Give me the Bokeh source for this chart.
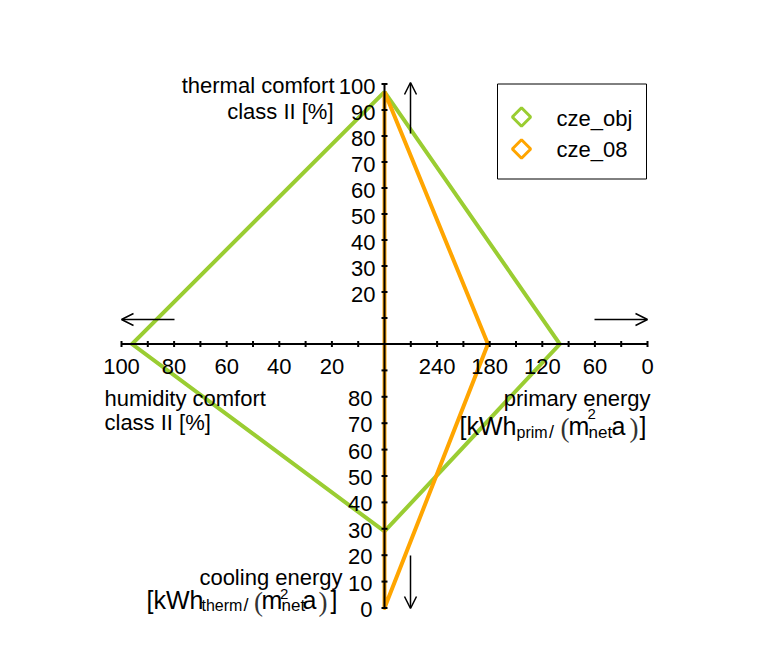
import numpy as np
from bokeh.plotting import figure
from bokeh.models import Range1d, Arrow, OpenHead
from bokeh.core.properties import value
from bokeh.embed import file_html
from bokeh.resources import INLINE

# ---------------- data ----------------
axis_keys = ["thermal", "primary", "cooling", "humidity"]
series_names = ["cze_obj", "cze_08"]
cze_obj = [97, 100, 29, 96]   # thermal comfort %, primary energy, cooling energy, humidity comfort %
cze_08 = [97, 182, 0, 0]
series_colors = ["#9ACD32", "#FFA500"]
series_joins = ["miter", "round"]

thermal_ticks = [10, 20, 30, 40, 50, 60, 70, 80, 90, 100]
thermal_labels = [20, 30, 40, 50, 60, 70, 80, 90, 100]
primary_ticks = [0, 30, 60, 90, 120, 150, 180, 210, 240, 270]
primary_labels = [0, 60, 120, 180, 240]
cooling_ticks = [0, 10, 20, 30, 40, 50, 60, 70, 80, 90]
cooling_labels = [0, 10, 20, 30, 40, 50, 60, 70, 80]
humidity_ticks = [10, 20, 30, 40, 50, 60, 70, 80, 90, 100]
humidity_labels = [100, 80, 60, 40, 20]

# ---------------- geometry (pixel space, y downward) ----------------
CX, CY = 384.0, 343.5
AX = {
    "thermal": (0, 100, 0, -1, 260),
    "primary": (300, 0, 1, 0, 263),
    "cooling": (100, 0, 0, 1, 264),
    "humidity": (0, 100, -1, 0, 263),
}


def pos(axis, v):
    v0, v1, dx, dy, L = AX[axis]
    f = (v - v0) / (v1 - v0)
    return CX + dx * f * L, CY + dy * f * L


p = figure(width=768, height=671, x_range=Range1d(0, 768), y_range=Range1d(671, 0),
           min_border=0, toolbar_location=None, output_backend="svg",
           x_axis_type=None, y_axis_type=None)
p.outline_line_color = None
p.xgrid.visible = False
p.ygrid.visible = False
p.background_fill_color = "white"
p.border_fill_color = "white"

FONT = "Liberation Sans"
SERIF = "Liberation Serif"
FS = 22


def txt(x, y, s, size=FS, align="left", font=FONT, color="black"):
    p.text(x=[x], y=[y], text=[s], text_font=value(font), text_font_size=f"{size}px",
           text_align=align, text_baseline="middle", text_color=color)


# ---------------- series polygons ----------------
for vals, col, join in zip([cze_obj, cze_08], series_colors, series_joins):
    pts = [pos(k, v) for k, v in zip(axis_keys, vals)]
    pts.append(pts[0])
    p.line(x=[q[0] for q in pts], y=[q[1] for q in pts], line_color=col, line_width=4,
           line_join=join)

# ---------------- axes ----------------
tx, ty = pos("thermal", 100)
bx, by = pos("cooling", 0)
lx, ly = pos("humidity", 100)
rx, ry = pos("primary", 0)
p.segment(x0=[tx, lx], y0=[ty, ly], x1=[bx, rx], y1=[by, ry], line_color="black", line_width=2)

vt = [pos("thermal", t) for t in thermal_ticks] + [pos("cooling", t) for t in cooling_ticks]
p.segment(x0=[q[0] - 3 for q in vt], y0=[q[1] for q in vt], x1=[q[0] + 3 for q in vt],
          y1=[q[1] for q in vt], line_color="black", line_width=2)
ht = [pos("humidity", t) for t in humidity_ticks] + [pos("primary", t) for t in primary_ticks]
p.segment(x0=[q[0] for q in ht], y0=[q[1] - 3 for q in ht], x1=[q[0] for q in ht],
          y1=[q[1] + 3 for q in ht], line_color="black", line_width=2)


def labels(xs, ys, vals, align):
    p.text(x=xs, y=ys, text=[str(v) for v in vals], text_font=value(FONT),
           text_font_size=f"{FS}px", text_align=align, text_baseline="middle")


tl = [pos("thermal", t) for t in thermal_labels]
labels([375] * len(tl), [q[1] + 2 for q in tl], thermal_labels, "right")
cl = [pos("cooling", t) for t in cooling_labels]
labels([372] * len(cl), [q[1] + 1.5 for q in cl], cooling_labels, "right")
hl = [pos("humidity", t) for t in humidity_labels]
labels([q[0] for q in hl], [365.5] * len(hl), humidity_labels, "center")
pl = [pos("primary", t) for t in primary_labels]
labels([q[0] for q in pl], [365.5] * len(pl), primary_labels, "center")

# ---------------- axis titles ----------------
txt(334, 85, "thermal comfort", align="right")
txt(333, 111, "class II [%]", align="right")
txt(104, 397.5, "humidity comfort")
txt(104, 422, "class II [%]")
txt(650, 397.5, "primary energy", align="right")
txt(342, 577, "cooling energy", align="right")

# unit pieces: (text, x, middle-y, size, font)
prim_unit = [("[kWh", 459, 425, 25, FONT), ("prim", 516, 432, 16, FONT), ("/", 548.5, 431, 18, FONT),
             ("(", 560, 427, 27, SERIF), ("m", 568, 425, 25, FONT), ("2", 587, 413, 15, FONT),
             ("net", 588, 432, 17, FONT), ("a", 611, 425, 25, FONT), (")", 629, 427, 27, SERIF),
             ("]", 639, 425, 25, FONT)]
cool_unit = [("[kWh", 146, 599.5, 25, FONT), ("therm", 201, 605, 16, FONT), ("/", 243, 604, 18, FONT),
             ("(", 253.5, 601, 27, SERIF), ("m", 261, 599.5, 25, FONT), ("2", 279.5, 593, 15, FONT),
             ("net", 281, 605, 17, FONT), ("a", 302, 599.5, 25, FONT), (")", 318, 601, 27, SERIF),
             ("]", 330, 599.5, 25, FONT)]
for s, x, y, sz, f in prim_unit + cool_unit:
    txt(x, y, s, size=sz, font=f, color="#333333" if f == SERIF else "black")

# ---------------- direction arrows ----------------
for xs, ys, xe, ye in [(410, 133, 410, 82), (174, 319, 121, 319), (594, 319, 647, 319), (410, 555, 410, 608)]:
    p.add_layout(Arrow(x_start=xs, y_start=ys, x_end=xe, y_end=ye, line_width=1.5,
                       end=OpenHead(size=12, line_width=1.5, line_color="black")))

# ---------------- legend ----------------
p.quad(left=[497], right=[646], top=[83.5], bottom=[178.5], fill_color="white", line_color="black", line_width=1)
p.scatter(x=[521, 521], y=[116.5, 148.5], marker="square", angle=np.pi / 4, size=13,
          fill_color=None, line_color=series_colors, line_width=3)
p.text(x=[556, 556], y=[118, 149], text=series_names, text_font=value(FONT), text_font_size=f"{FS}px",
       text_align="left", text_baseline="middle")

open("out.html", "w").write(file_html(p, INLINE))
